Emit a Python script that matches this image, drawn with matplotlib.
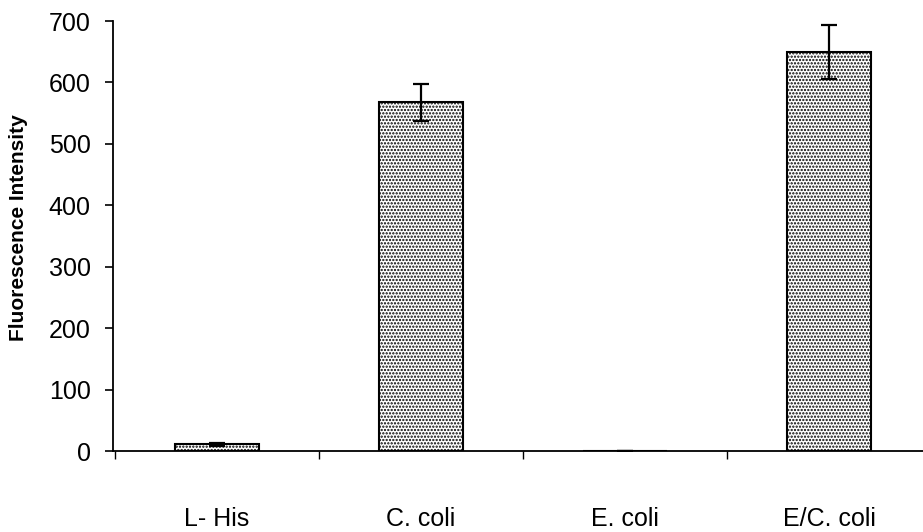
import matplotlib.pyplot as plt
import matplotlib as mpl
import numpy as np

mpl.rcParams["font.family"] = ["Liberation Sans", "DejaVu Sans"]
mpl.rcParams["hatch.color"] = "#555555"
mpl.rcParams["hatch.linewidth"] = 1.1

categories = ["L- His", "C. coli", "E. coli", "E/C. coli"]
values = [11, 568, 1, 650]
errors = [2, 30, 0, 44]

fig = plt.figure(figsize=(9.23, 5.32), dpi=100)
ax = fig.add_axes([0.1224, 0.152, 0.8776, 0.8085])

x = np.arange(len(categories))
ax.bar(x, values, width=0.41, color="white", edgecolor="black",
       linewidth=1.5, hatch=".....", zorder=2)
ax.errorbar(x, values, yerr=errors, fmt="none", ecolor="black",
            elinewidth=1.6, capsize=5.5, capthick=1.6, zorder=3)

ax.set_xlim(-0.51, 3.46)
ax.set_ylim(0, 700)
ax.set_yticks(range(0, 701, 100))
ax.set_xticks(x)
ax.set_xticklabels(categories)
ax.set_xticks([-0.5, 0.5, 1.5, 2.5], minor=True)

ax.tick_params(axis="y", direction="out", length=6, width=1.2, labelsize=18, pad=10)
ax.tick_params(axis="x", which="major", length=0, labelsize=18, pad=40)
ax.tick_params(axis="x", which="minor", direction="out", length=6, width=1)

ax.spines["top"].set_visible(False)
ax.spines["right"].set_visible(False)
ax.spines["left"].set_linewidth(1.3)
ax.spines["bottom"].set_linewidth(1.3)

ax.set_ylabel("Fluorescence Intensity", fontsize=15, fontweight="bold")
ax.yaxis.set_label_coords(-0.105, 0.52)

fig.savefig("out.png", dpi=100)
